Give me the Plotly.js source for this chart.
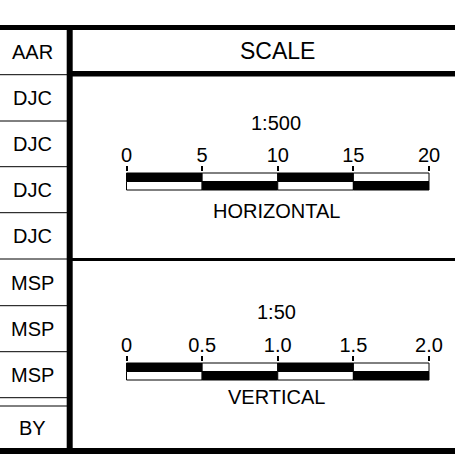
<!DOCTYPE html>
<html>
<head>
<meta charset="utf-8">
<script src="https://cdn.plot.ly/plotly-3.0.1.min.js"></script>
<style>html,body{margin:0;padding:0;background:#fff;}#chart{width:455px;height:454px;}</style>
</head>
<body>
<div id="chart"></div>
<script>
// ---- data ----
const rowLabels = ['AAR', 'DJC', 'DJC', 'DJC', 'DJC', 'MSP', 'MSP', 'MSP', 'BY'];
const titleText = 'SCALE';
const hTicks = [0, 5, 10, 15, 20];
const hTickText = ['0', '5', '10', '15', '20'];
const vTicks = [0, 0.5, 1.0, 1.5, 2.0];
const vTickText = ['0', '0.5', '1.0', '1.5', '2.0'];
const scaleRatios = ['1:500', '1:50'];
const scaleNames = ['HORIZONTAL', 'VERTICAL'];

// ---- layout geometry (pixels) ----
const W = 455, H = 454;
const FONT = 'Liberation Sans, Arial, Helvetica, sans-serif';
const rowBounds = [[28, 75], [75, 121], [121, 167], [167, 213], [213, 259], [259, 306], [306, 352], [352, 398], [406, 450]];
const barLeft = 126.5, barRight = 429;
const panels = [
  {ticks: hTicks, text: hTickText, barTop: 173, barBot: 190, ratioY: 123, nameY: 211},
  {ticks: vTicks, text: vTickText, barTop: 363, barBot: 380, ratioY: 312, nameY: 397}
];
const py = p => 1 - p / H;

const traces = [];
const layout = {
  width: W, height: H,
  margin: {l: 0, r: 0, t: 0, b: 0, pad: 0},
  paper_bgcolor: '#fff', plot_bgcolor: 'rgba(0,0,0,0)',
  showlegend: false, barmode: 'overlay',
  xaxis: {range: [0, W], domain: [0, 1], visible: false, fixedrange: true},
  yaxis: {range: [H, 0], domain: [0, 1], visible: false, fixedrange: true},
  shapes: [], annotations: [],
  font: {family: FONT, color: '#000', size: 20}
};

panels.forEach((p, i) => {
  const xa = 'x' + (i + 2), ya = 'y' + (i + 2);
  const ticks = p.ticks;
  const min = ticks[0], max = ticks[ticks.length - 1];
  const upp = (max - min) / (barRight - barLeft); // units per px
  const starts = ticks.slice(0, -1);
  const lens = starts.map((s, k) => ticks[k + 1] - s);
  const topCol = starts.map((s, k) => k % 2 === 0 ? '#000' : '#fff');
  const botCol = starts.map((s, k) => k % 2 === 0 ? '#fff' : '#000');
  [[1.5, topCol], [0.5, botCol]].forEach(([yy, cols]) => {
    traces.push({
      type: 'bar', orientation: 'h', xaxis: xa, yaxis: ya,
      y: starts.map(() => yy), x: lens, base: starts, width: 1,
      marker: {color: cols, opacity: 1, line: {color: '#000', width: 1}},
      hoverinfo: 'skip'
    });
  });
  const padPx = 1;
  const yupp = 2 / (p.barBot - p.barTop);
  layout['xaxis' + (i + 2)] = {
    domain: [(barLeft - padPx) / W, (barRight + padPx) / W],
    range: [min - padPx * upp, max + padPx * upp],
    anchor: ya, side: 'top', showgrid: false, zeroline: false, showline: false,
    ticks: 'outside', ticklen: 5, tickwidth: 2, tickcolor: '#000',
    tickmode: 'array', tickvals: ticks, ticktext: p.text, ticklabelstandoff: -4,
    tickfont: {family: FONT, size: 20, color: '#000'}, fixedrange: true
  };
  layout['yaxis' + (i + 2)] = {
    domain: [py(p.barBot + padPx), py(p.barTop - padPx)],
    range: [-padPx * yupp, 2 + padPx * yupp],
    anchor: xa, visible: false, fixedrange: true
  };
  layout.annotations.push({xref: 'x', yref: 'y', x: 276, y: p.ratioY, text: scaleRatios[i], showarrow: false, xanchor: 'center', yanchor: 'middle', font: {size: 20}});
  layout.annotations.push({xref: 'x', yref: 'y', x: 276, y: p.nameY, text: scaleNames[i], showarrow: false, xanchor: 'center', yanchor: 'middle', font: {size: 20}});
});

// title
layout.annotations.push({xref: 'x', yref: 'y', x: 277.5, y: 51, text: titleText, showarrow: false, xanchor: 'center', yanchor: 'middle', font: {size: 23}});

// row labels
rowLabels.forEach((lab, i) => {
  const [a, b] = rowBounds[i];
  layout.annotations.push({xref: 'x', yref: 'y', x: 32, y: (a + b) / 2, text: lab, showarrow: false, xanchor: 'center', yanchor: 'middle', font: {size: 20}});
});

// table lines
const line = (x0, y0, x1, y1, w) => layout.shapes.push({type: 'line', xref: 'x', yref: 'y', x0, y0, x1, y1, line: {color: '#000', width: w}, layer: 'above'});
line(0, 27.5, W, 27.5, 5);
line(0, 451, W, 451, 6);
line(69.7, 25, 69.7, 454, 6);
line(72, 73.8, W, 73.8, 5.5);
line(72, 259.5, W, 259.5, 3);
[74.7, 121, 166.7, 212.7, 259, 305.7, 351.7, 397.7, 406].forEach(y => line(0, y, 68, y, 1));

Plotly.newPlot('chart', traces, layout, {staticPlot: true, displayModeBar: false});
</script>
</body>
</html>
